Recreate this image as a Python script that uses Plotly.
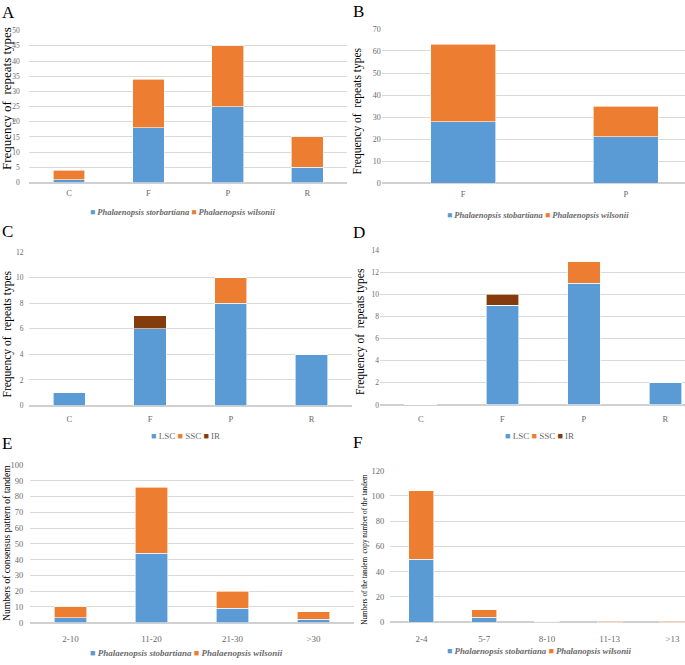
import plotly.graph_objects as go

W, H = 685, 665

# ---------------- data ----------------
cats_A = ["C", "F", "P", "R"]
A_stor = [1, 18, 25, 5]
A_wils = [3, 16, 20, 10]
A_names = ["Phalaenopsis storbartiana", "Phalaenopsis wilsonii"]

cats_B = ["F", "P"]
B_stob = [28, 21]
B_wils = [35, 14]
B_names = ["Phalaenopsis stobartiana", "Phalaenopsis wilsonii"]

cats_C = ["C", "F", "P", "R"]
C_lsc = [1, 6, 8, 4]
C_ssc = [0, 0, 2, 0]
C_ir = [0, 1, 0, 0]

cats_D = ["C", "F", "P", "R"]
D_lsc = [0, 9, 11, 2]
D_ssc = [0, 0, 2, 0]
D_ir = [0, 1, 0, 0]
region_names = ["LSC", "SSC", "IR"]

cats_E = ["2-10", "11-20", "21-30", ">30"]
E_stob = [3, 44, 9, 2]
E_wils = [7, 42, 11, 5]
E_names = ["Phalaenopsis stobartiana", "Phalaenopsis wilsonii"]

cats_F = ["2-4", "5-7", "8-10", "11-13", ">13"]
F_stob = [50, 4, 1, 0, 0]
F_wils = [54, 6, 0, 1, 1]
F_names = ["Phalaenopsis stobartiana", "Phalanopsis wilsonii"]

BLUE, ORANGE, BROWN = "#5B9BD5", "#ED7D31", "#843C0C"
FONT = "Liberation Serif, Times New Roman, serif"
GREY = "#6A6A6A"

def xd(a, b):
    return [a / W, min(b / W, 1.0)]

def yd(top, bottom):
    return [1 - bottom / H, 1 - top / H]

panels = [
    # key, xdom px, ydom px (top,bottom), xrange, yrange, dtick, ytick font, y ticklen, x tick font, x ticklen
    ("", xd(29.3, 347), yd(26, 180.3), [-0.5, 3.5], [0, 50], 5, 7.5, 7, 8.5, 2),
    ("2", xd(381.7, 685), yd(24.3, 181), [-0.5, 1.364], [0, 70], 10, 8, 0, 8.5, 3),
    ("3", xd(28.9, 352), yd(250.7, 406.7), [-0.5, 3.5], [0, 12], 2, 7.5, 3, 8.5, 5),
    ("4", xd(380, 685), yd(249, 406), [-0.5, 3.24], [0, 14], 2, 7.5, 0, 8.5, 6),
    ("5", xd(30, 354), yd(467, 627), [-0.5, 3.5], [0, 100], 10, 8.5, 4, 9, 8),
    ("6", xd(390, 685), yd(472.7, 626.7), [-0.5, 4.2], [0, 120], 20, 8.5, 3, 9, 8),
]

fig = go.Figure()

def bar(x, y, color, name, k):
    fig.add_trace(go.Bar(
        x=x, y=y, name=name, marker=dict(color=color, line=dict(color="white", width=0.6)),
        width=0.4, xaxis="x" + k, yaxis="y" + k, showlegend=False, hoverinfo="skip"))

bar(cats_A, A_stor, BLUE, A_names[0], "")
bar(cats_A, A_wils, ORANGE, A_names[1], "")
bar(cats_B, B_stob, BLUE, B_names[0], "2")
bar(cats_B, B_wils, ORANGE, B_names[1], "2")
bar(cats_C, C_lsc, BLUE, region_names[0], "3")
bar(cats_C, C_ssc, ORANGE, region_names[1], "3")
bar(cats_C, C_ir, BROWN, region_names[2], "3")
bar(cats_D, D_lsc, BLUE, region_names[0], "4")
bar(cats_D, D_ssc, ORANGE, region_names[1], "4")
bar(cats_D, D_ir, BROWN, region_names[2], "4")
bar(cats_E, E_stob, BLUE, E_names[0], "5")
bar(cats_E, E_wils, ORANGE, E_names[1], "5")
bar(cats_F, F_stob, BLUE, F_names[0], "6")
bar(cats_F, F_wils, ORANGE, F_names[1], "6")

layout = dict(
    width=W, height=H, margin=dict(l=0, r=0, t=0, b=0),
    paper_bgcolor="white", plot_bgcolor="white", barmode="stack",
    font=dict(family=FONT, color=GREY, size=9), showlegend=False,
)
for k, xdom, ydom, xr, yr, dt, yf, yl, xf, xl in panels:
    layout["xaxis" + k] = dict(
        domain=xdom, anchor="y" + k, range=xr, type="category", showgrid=False,
        showline=False, zeroline=False, ticks="outside", ticklen=xl,
        ticklabeloverflow="allow",
        tickcolor="rgba(0,0,0,0)", tickfont=dict(size=xf, color=GREY, family=FONT))
    layout["yaxis" + k] = dict(
        domain=ydom, anchor="x" + k, range=yr, dtick=dt, showgrid=True,
        gridcolor="#D9D9D9", gridwidth=1, zeroline=True, zerolinecolor="#D0D0D0",
        showline=False, ticks="outside" if yl > 0 else "", ticklen=max(yl, 1),
        tickcolor="rgba(0,0,0,0)",
        tickfont=dict(size=yf, color=GREY, family=FONT))
fig.update_layout(**layout)

ann = []
def letter(t, x, y):
    ann.append(dict(text=t, x=x / W, y=1 - y / H, xref="paper", yref="paper",
                    showarrow=False, xanchor="left", yanchor="middle",
                    font=dict(size=17, color="black", family=FONT)))

letter("A", 0, 8)
letter("B", 351, 7)
letter("C", 0, 230)
letter("D", 351, 231)
letter("E", 0, 445)
letter("F", 351, 444)

def ytitle(t, x, y, size):
    ann.append(dict(text=t, x=x / W, y=1 - y / H, xref="paper", yref="paper",
                    showarrow=False, textangle=-90, xanchor="center", yanchor="middle",
                    font=dict(size=size, color="black", family=FONT)))

rt = "Frequency of &nbsp;repeats types"
ytitle(rt, 6.5, 95, 13)
ytitle(rt, 357, 108, 11.5)
ytitle(rt, 7.5, 334, 11.5)
ytitle(rt, 360, 332, 11.5)
ytitle("Numbers of consensus pattern of tandem", 7, 546, 9.5)
ytitle("Numbers of the tandem &nbsp;copy number of the tandem", 365, 553, 7.2)

def legend(names, colors, x, y, italic=True, size=8.5):
    parts = []
    for n, c in zip(names, colors):
        label = "<b><i>%s</i></b>" % n if italic else n
        parts.append('<span style="color:%s">■</span> %s' % (c, label))
    ann.append(dict(text=" ".join(parts), x=x / W, y=1 - y / H, xref="paper", yref="paper",
                    showarrow=False, xanchor="center", yanchor="middle",
                    font=dict(size=size, color=GREY, family=FONT)))

legend(A_names, [BLUE, ORANGE], 183, 210)
legend(B_names, [BLUE, ORANGE], 538, 213)
legend(region_names, [BLUE, ORANGE, BROWN], 185, 438, italic=False, size=9)
legend(region_names, [BLUE, ORANGE, BROWN], 539, 438, italic=False, size=9)
legend(E_names, [BLUE, ORANGE], 187, 658, size=9)
legend(F_names, [BLUE, ORANGE], 539, 656, size=8.8)

fig.update_layout(annotations=ann)
fig.write_html("out.html", config={"displayModeBar": False},
               post_script="document.body.style.margin='0';")
